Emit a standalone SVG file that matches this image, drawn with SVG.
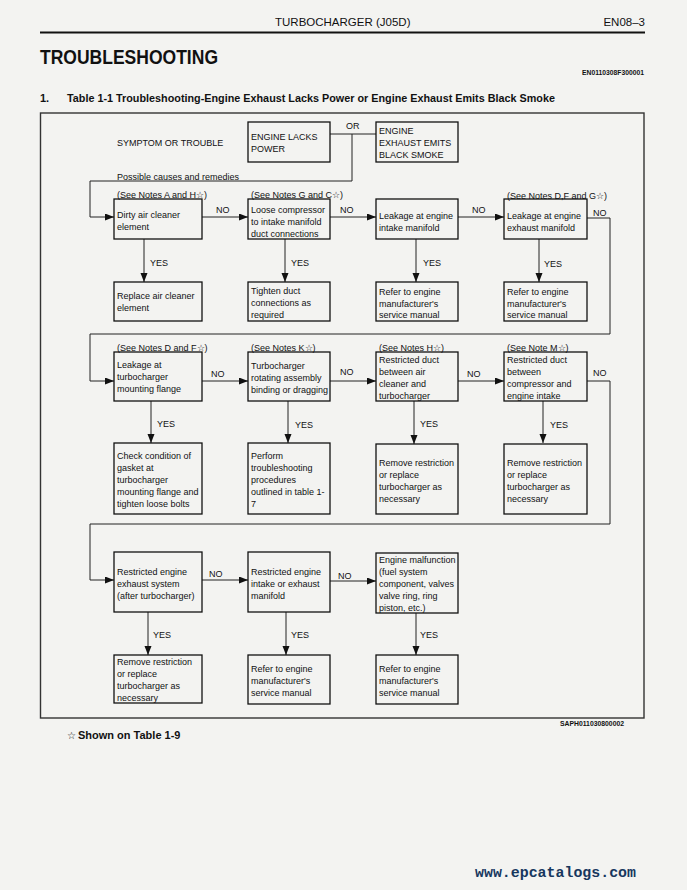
<svg xmlns="http://www.w3.org/2000/svg" width="687" height="890" viewBox="0 0 687 890">
<style>
text{font-family:"Liberation Sans",Arial,Helvetica,sans-serif;fill:#111;font-size:9px}
.b{font-weight:bold}
.box{fill:none;stroke:#111;stroke-width:1.3}
.ln{fill:none;stroke:#222;stroke-width:1}
</style>
<defs>
<marker id="ar" markerUnits="userSpaceOnUse" markerWidth="10" markerHeight="8" refX="9" refY="3.5" orient="auto">
<path d="M0,0 L9,3.5 L0,7 z" fill="#111"/>
</marker>
</defs>
<rect x="0" y="0" width="687" height="890" fill="#f3f3f1"/>

<g id="header">
<text x="275" y="26" style="font-size:11.5px">TURBOCHARGER (J05D)</text>
<text x="645" y="26" text-anchor="end" style="font-size:11.5px">EN08–3</text>
<line x1="40" y1="32.5" x2="645" y2="32.5" stroke="#111" stroke-width="1.8"/>
<text x="40" y="64" class="b" style="font-size:19.5px" textLength="178" lengthAdjust="spacingAndGlyphs">TROUBLESHOOTING</text>
<text x="644" y="74.5" class="b" text-anchor="end" style="font-size:7px" textLength="62" lengthAdjust="spacingAndGlyphs">EN0110308F300001</text>
<text x="40" y="102" class="b" style="font-size:11px">1.</text>
<text x="67" y="102" class="b" style="font-size:11px" textLength="488" lengthAdjust="spacingAndGlyphs">Table 1-1 Troubleshooting-Engine Exhaust Lacks Power or Engine Exhaust Emits Black Smoke</text>
</g>

<rect id="frame" x="40.5" y="113" width="603.5" height="605" fill="none" stroke="#333" stroke-width="1.4"/>

<g id="labels">
<text x="117" y="145.5">SYMPTOM OR TROUBLE</text>
<text x="117" y="179.5">Possible causes and remedies</text>
<text x="346" y="128.5">OR</text>
</g>

<g id="connectors">
<path class="ln" d="M330,134 H376 M352,134 V181 H90 V217 H114" marker-end="url(#ar)"/>
<line class="ln" x1="202" y1="217" x2="248" y2="217" marker-end="url(#ar)"/>
<line class="ln" x1="330" y1="217" x2="376" y2="217" marker-end="url(#ar)"/>
<line class="ln" x1="458" y1="217" x2="504" y2="217" marker-end="url(#ar)"/>
<path class="ln" d="M587,218 H610 V334 H90 V381 H114" marker-end="url(#ar)"/>
<line class="ln" x1="144" y1="239" x2="144" y2="282" marker-end="url(#ar)"/>
<line class="ln" x1="285" y1="239" x2="285" y2="282" marker-end="url(#ar)"/>
<line class="ln" x1="416" y1="239" x2="416" y2="282" marker-end="url(#ar)"/>
<line class="ln" x1="539" y1="239" x2="539" y2="282" marker-end="url(#ar)"/>
<line class="ln" x1="202" y1="381" x2="248" y2="381" marker-end="url(#ar)"/>
<line class="ln" x1="330" y1="381" x2="376" y2="381" marker-end="url(#ar)"/>
<line class="ln" x1="458" y1="381" x2="504" y2="381" marker-end="url(#ar)"/>
<path class="ln" d="M587,381 H610 V524 H90 V580 H114" marker-end="url(#ar)"/>
<line class="ln" x1="151" y1="401" x2="151" y2="443" marker-end="url(#ar)"/>
<line class="ln" x1="288" y1="401" x2="288" y2="443" marker-end="url(#ar)"/>
<line class="ln" x1="414" y1="401" x2="414" y2="444" marker-end="url(#ar)"/>
<line class="ln" x1="543" y1="401" x2="543" y2="443" marker-end="url(#ar)"/>
<line class="ln" x1="202" y1="580" x2="248" y2="580" marker-end="url(#ar)"/>
<line class="ln" x1="330" y1="581" x2="376" y2="581" marker-end="url(#ar)"/>
<line class="ln" x1="148" y1="612" x2="148" y2="655" marker-end="url(#ar)"/>
<line class="ln" x1="286" y1="612" x2="286" y2="655" marker-end="url(#ar)"/>
<line class="ln" x1="416" y1="613" x2="416" y2="655" marker-end="url(#ar)"/>
<g id="connector-labels">
<text x="216" y="212.5">NO</text>
<text x="340" y="212.5">NO</text>
<text x="472" y="212.5">NO</text>
<text x="593" y="216">NO</text>
<text x="150" y="265.5">YES</text>
<text x="291" y="265.5">YES</text>
<text x="423" y="265.5">YES</text>
<text x="544" y="266.5">YES</text>
<text x="211" y="376.5">NO</text>
<text x="340" y="374.5">NO</text>
<text x="467" y="376.5">NO</text>
<text x="593" y="375.5">NO</text>
<text x="157" y="426.5">YES</text>
<text x="295" y="427.5">YES</text>
<text x="420" y="426.5">YES</text>
<text x="550" y="427.5">YES</text>
<text x="209" y="576.5">NO</text>
<text x="338" y="578.5">NO</text>
<text x="153" y="637.5">YES</text>
<text x="291" y="637.5">YES</text>
<text x="420" y="637.5">YES</text>
</g>
</g>

<g id="n-power"><rect class="box" x="248" y="122" width="82" height="40"/>
<text x="251" y="139.5">ENGINE LACKS</text><text x="251" y="151.5">POWER</text></g>
<g id="n-smoke"><rect class="box" x="376" y="122" width="82" height="40"/>
<text x="379" y="133.5">ENGINE</text><text x="379" y="145.5">EXHAUST EMITS</text><text x="379" y="157.5">BLACK SMOKE</text></g>

<g id="n-air"><text x="117" y="197.5">(See Notes A and H☆)</text>
<rect class="box" x="114" y="199" width="88" height="40"/>
<text x="117" y="217.5">Dirty air cleaner</text><text x="117" y="229.5">element</text></g>
<g id="n-loose"><text x="251" y="197.5">(See Notes G and C☆)</text>
<rect class="box" x="248" y="199" width="82" height="40"/>
<text x="251" y="212.5">Loose compressor</text><text x="251" y="224.5">to intake manifold</text><text x="251" y="236.5">duct connections</text></g>
<g id="n-intake"><rect class="box" x="376" y="199" width="82" height="40"/>
<text x="379" y="218.5">Leakage at engine</text><text x="379" y="230.5">intake manifold</text></g>
<g id="n-exhaust"><text x="507" y="198.5">(See Notes D,F and G☆)</text>
<rect class="box" x="504" y="199" width="83" height="40"/>
<text x="507" y="218.5">Leakage at engine</text><text x="507" y="230.5">exhaust manifold</text></g>

<g id="r-air"><rect class="box" x="114" y="282" width="88" height="39"/>
<text x="117" y="298.5">Replace air cleaner</text><text x="117" y="310.5">element</text></g>
<g id="r-loose"><rect class="box" x="248" y="282" width="82" height="39"/>
<text x="251" y="293.5">Tighten duct</text><text x="251" y="305.5">connections as</text><text x="251" y="317.5">required</text></g>
<g id="r-intake"><rect class="box" x="376" y="282" width="82" height="39"/>
<text x="379" y="294.5">Refer to engine</text><text x="379" y="306.5">manufacturer's</text><text x="379" y="317.5">service manual</text></g>
<g id="r-exhaust"><rect class="box" x="504" y="282" width="83" height="39"/>
<text x="507" y="294.5">Refer to engine</text><text x="507" y="306.5">manufacturer's</text><text x="507" y="317.5">service manual</text></g>

<g id="n-flange"><text x="117" y="350.5">(See Notes D and F☆)</text>
<rect class="box" x="114" y="352" width="88" height="49"/>
<text x="117" y="367.5">Leakage at</text><text x="117" y="379.5">turbocharger</text><text x="117" y="391.5">mounting flange</text></g>
<g id="n-rotating"><text x="251" y="350.5">(See Notes K☆)</text>
<rect class="box" x="248" y="352" width="82" height="49"/>
<text x="251" y="368.5">Turbocharger</text><text x="251" y="380.5">rotating assembly</text><text x="251" y="392.5">binding or dragging</text></g>
<g id="n-duct-air"><text x="379" y="350.5">(See Notes H☆)</text>
<rect class="box" x="376" y="352" width="82" height="49"/>
<text x="379" y="362.5">Restricted duct</text><text x="379" y="374.5">between air</text><text x="379" y="386.5">cleaner and</text><text x="379" y="398.5">turbocharger</text></g>
<g id="n-duct-comp"><text x="507" y="350.5">(See Note M☆)</text>
<rect class="box" x="504" y="352" width="83" height="49"/>
<text x="507" y="362.5">Restricted duct</text><text x="507" y="374.5">between</text><text x="507" y="386.5">compressor and</text><text x="507" y="398.5">engine intake</text></g>

<g id="r-flange"><rect class="box" x="114" y="443" width="88" height="71"/>
<text x="117" y="458.5">Check condition of</text><text x="117" y="470.5">gasket at</text><text x="117" y="482.5">turbocharger</text><text x="117" y="494.5">mounting flange and</text><text x="117" y="506.5">tighten loose bolts</text></g>
<g id="r-rotating"><rect class="box" x="248" y="443" width="82" height="71"/>
<text x="251" y="458.5">Perform</text><text x="251" y="470.5">troubleshooting</text><text x="251" y="482.5">procedures</text><text x="251" y="494.5">outlined in table 1-</text><text x="251" y="506.5">7</text></g>
<g id="r-duct-air"><rect class="box" x="376" y="444" width="82" height="70"/>
<text x="379" y="465.5">Remove restriction</text><text x="379" y="477.5">or replace</text><text x="379" y="489.5">turbocharger as</text><text x="379" y="501.5">necessary</text></g>
<g id="r-duct-comp"><rect class="box" x="504" y="444" width="83" height="70"/>
<text x="507" y="465.5">Remove restriction</text><text x="507" y="477.5">or replace</text><text x="507" y="489.5">turbocharger as</text><text x="507" y="501.5">necessary</text></g>

<g id="n-exh-sys"><rect class="box" x="114" y="552" width="88" height="60"/>
<text x="117" y="574.5">Restricted engine</text><text x="117" y="586.5">exhaust system</text><text x="117" y="598.5">(after turbocharger)</text></g>
<g id="n-manifold"><rect class="box" x="248" y="552" width="82" height="60"/>
<text x="251" y="574.5">Restricted engine</text><text x="251" y="586.5">intake or exhaust</text><text x="251" y="598.5">manifold</text></g>
<g id="n-engine"><rect class="box" x="376" y="553" width="82" height="60"/>
<text x="379" y="562.5">Engine malfunction</text><text x="379" y="574.5">(fuel system</text><text x="379" y="586.5">component, valves</text><text x="379" y="598.5">valve ring, ring</text><text x="379" y="610.5">piston, etc.)</text></g>

<g id="r-exh-sys"><rect class="box" x="114" y="655" width="88" height="48"/>
<text x="117" y="664.5">Remove restriction</text><text x="117" y="676.5">or replace</text><text x="117" y="688.5">turbocharger as</text><text x="117" y="700.5">necessary</text></g>
<g id="r-manifold"><rect class="box" x="248" y="655" width="82" height="49"/>
<text x="251" y="671.5">Refer to engine</text><text x="251" y="683.5">manufacturer's</text><text x="251" y="695.5">service manual</text></g>
<g id="r-engine"><rect class="box" x="376" y="655" width="82" height="49"/>
<text x="379" y="671.5">Refer to engine</text><text x="379" y="683.5">manufacturer's</text><text x="379" y="695.5">service manual</text></g>

<g id="footer">
<text x="624" y="725.5" class="b" text-anchor="end" style="font-size:6.5px" textLength="64" lengthAdjust="spacingAndGlyphs">SAPH011030800002</text>
<text x="67" y="739" style="font-size:10px;font-family:'DejaVu Sans',sans-serif">☆</text>
<text x="78" y="739" class="b" style="font-size:11px">Shown on Table 1-9</text>
<text x="475" y="877" class="b" style="font-family:'Liberation Mono','Courier New',monospace;font-size:15px;fill:#17375e" textLength="161" lengthAdjust="spacingAndGlyphs">www.epcatalogs.com</text>
</g>
</svg>
